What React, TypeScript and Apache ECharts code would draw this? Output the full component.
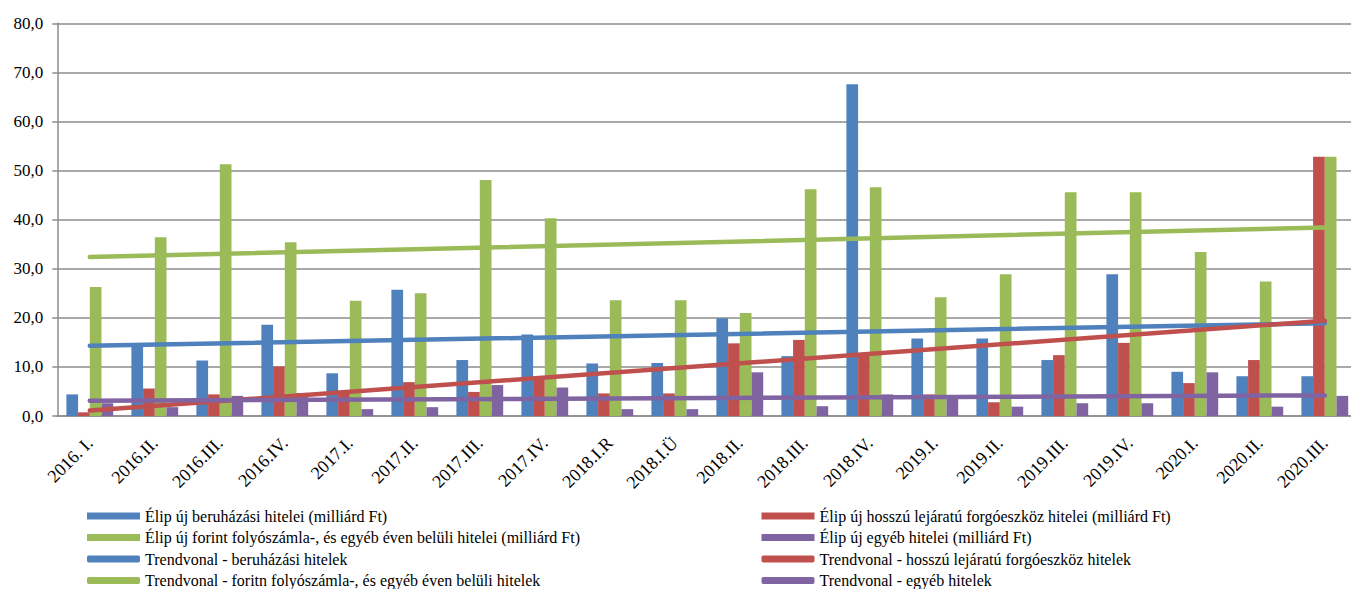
import React, { useEffect, useRef } from "react";
import * as echarts from "echarts";

const categories = [
  "2016. I.", "2016.II.", "2016.III.", "2016.IV.", "2017.I.", "2017.II.", "2017.III.", "2017.IV.",
  "2018.I.R", "2018.I.Ü", "2018.II.", "2018.III.", "2018.IV.", "2019.I.", "2019.II.", "2019.III.",
  "2019.IV.", "2020.I.", "2020.II.", "2020.III.",
];

const beruhazasi = [4.4, 14.3, 11.3, 18.6, 8.7, 25.7, 11.4, 16.6, 10.7, 10.8, 19.9, 12.2, 67.6, 15.8, 15.8, 11.4, 28.9, 9.0, 8.1, 8.1];
const hosszu = [0.75, 5.6, 4.4, 10.1, 4.8, 6.9, 4.9, 8.0, 4.6, 4.6, 14.8, 15.5, 12.8, 4.4, 2.8, 12.4, 14.9, 6.7, 11.4, 52.8];
const forint = [26.3, 36.4, 51.3, 35.4, 23.5, 25.0, 48.1, 40.3, 23.6, 23.6, 21.0, 46.2, 46.6, 24.2, 28.9, 45.6, 45.6, 33.4, 27.4, 52.8];
const egyeb = [2.6, 1.8, 4.1, 4.7, 1.4, 1.8, 6.3, 5.8, 1.4, 1.4, 8.9, 2.0, 4.4, 3.9, 1.9, 2.6, 2.6, 8.9, 1.9, 4.1];

// trendline end points (first and last category)
const trendBeruhazasi = [14.3, 18.9];
const trendHosszu = [1.1, 19.4];
const trendForint = [32.4, 38.4];
const trendEgyeb = [3.1, 4.2];

const yTicks = { min: 0, max: 80, interval: 10 };

const names = {
  b: "Élip új beruházási hitelei (milliárd Ft)",
  h: "Élip új hosszú lejáratú forgóeszköz hitelei (milliárd Ft)",
  f: "Élip új forint folyószámla-, és egyéb éven belüli hitelei (milliárd Ft)",
  e: "Élip új egyéb hitelei (milliárd Ft)",
  tb: "Trendvonal - beruházási hitelek",
  th: "Trendvonal - hosszú lejáratú forgóeszköz hitelek",
  tf: "Trendvonal - foritn folyószámla-, és egyéb éven belüli hitelek",
  te: "Trendvonal - egyéb hitelek",
};

const BLUE = "#4F81BD";
const RED = "#C0504D";
const GREEN = "#9BBB59";
const PURPLE = "#8064A2";
const FONT = "Liberation Serif";

function trendData(pair: number[]) {
  return categories.map((_, i) => (i === 0 ? pair[0] : i === categories.length - 1 ? pair[1] : null));
}

export default function App() {
  const ref = useRef<HTMLDivElement>(null);
  useEffect(() => {
    if (!ref.current) return;
    const chart = echarts.init(ref.current, undefined, { renderer: "svg" });
    const barSeries = (name: string, data: number[], color: string) => ({
      name,
      type: "bar",
      data,
      barGap: "0%",
      barCategoryGap: "28%",
      itemStyle: { color },
    });
    const lineSeries = (name: string, pair: number[], color: string) => ({
      name,
      type: "line",
      data: trendData(pair),
      connectNulls: true,
      symbol: "none",
      showSymbol: false,
      lineStyle: { color, width: 4.5, cap: "round" },
      itemStyle: { color },
      z: 5,
    });
    const legendCommon = {
      orient: "vertical",
      top: 508,
      height: 100,
      padding: 0,
      itemWidth: 53,
      itemHeight: 7,
      itemGap: 5.5,
      textStyle: { fontFamily: FONT, fontSize: 16, color: "#000", lineHeight: 16 },
    };
    chart.setOption({
      animation: false,
      backgroundColor: "#fff",
      textStyle: { fontFamily: FONT },
      grid: { left: 57.3, top: 23.3, width: 1300, height: 392.7, containLabel: false },
      legend: [
        {
          ...legendCommon,
          left: 87,
          data: [
            { name: names.b, icon: "rect" },
            { name: names.f, icon: "rect" },
            { name: names.tb, icon: "roundRect", itemStyle: { color: BLUE } },
            { name: names.tf, icon: "roundRect", itemStyle: { color: GREEN } },
          ],
        },
        {
          ...legendCommon,
          left: 761.5,
          data: [
            { name: names.h, icon: "rect" },
            { name: names.e, icon: "rect" },
            { name: names.th, icon: "roundRect", itemStyle: { color: RED } },
            { name: names.te, icon: "roundRect", itemStyle: { color: PURPLE } },
          ],
        },
      ],
      xAxis: {
        type: "category",
        data: categories,
        axisLine: { lineStyle: { color: "#8c8c8c", width: 1.5 } },
        axisTick: { alignWithLabel: false, length: 5, lineStyle: { color: "#8c8c8c", width: 1.5 } },
        axisLabel: {
          rotate: 45,
          interval: 0,
          margin: 24,
          padding: [14, 0, 0, 0],
          fontFamily: FONT,
          fontSize: 18,
          color: "#000",
        },
      },
      yAxis: {
        type: "value",
        min: yTicks.min,
        max: yTicks.max,
        interval: yTicks.interval,
        axisLine: { show: true, lineStyle: { color: "#8c8c8c", width: 1.5 } },
        axisTick: { show: true, length: 5, lineStyle: { color: "#8c8c8c", width: 1.5 } },
        splitLine: { lineStyle: { color: "#8c8c8c", width: 1.5 } },
        axisLabel: {
          margin: 14,
          fontFamily: FONT,
          fontSize: 17,
          color: "#000",
          formatter: (v: number) => v.toFixed(1).replace(".", ","),
        },
      },
      series: [
        barSeries(names.b, beruhazasi, BLUE),
        barSeries(names.h, hosszu, RED),
        barSeries(names.f, forint, GREEN),
        barSeries(names.e, egyeb, PURPLE),
        lineSeries(names.tb, trendBeruhazasi, BLUE),
        lineSeries(names.th, trendHosszu, RED),
        lineSeries(names.tf, trendForint, GREEN),
        lineSeries(names.te, trendEgyeb, PURPLE),
      ],
    });
    return () => chart.dispose();
  }, []);
  return (
    <div style={{ position: "fixed", left: 0, top: 0, width: 1351, height: 589, overflow: "hidden", background: "#fff" }}>
      <div ref={ref} style={{ width: 1362, height: 640 }} />
    </div>
  );
}
